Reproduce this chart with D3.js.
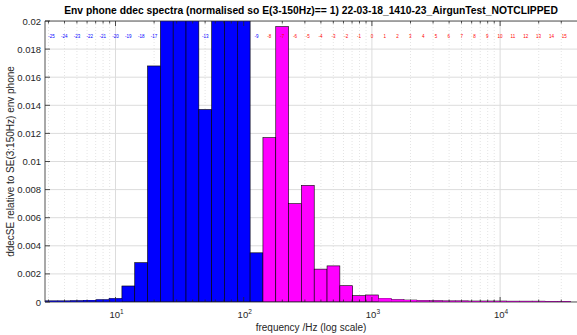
<!DOCTYPE html>
<html><head><meta charset="utf-8">
<script src="https://cdn.jsdelivr.net/npm/d3@7"></script>
<style>body{margin:0;background:#fff}svg{display:block}</style>
</head><body>
<script>
// Third-octave band indices (relative to 1 kHz) and normalised ddecSE values
const bands = [-25,-24,-23,-22,-21,-20,-19,-18,-17,-16,-15,-14,-13,-12,-11,-10,-9,-8,-7,-6,-5,-4,-3,-2,-1,0,1,2,3,4,5,6,7,8,9,10,11,12,13,14,15];
const values = [0.00008,0.00008,0.00009,0.00012,0.00016,0.00024,0.00114,0.0028,0.0168,0.028,0.034,0.031,0.0137,0.027,0.030,0.026,0.0035,0.0117,0.0196,0.0070,0.0083,0.00234,0.00257,0.00116,0.00045,0.0005,0.00026,0.00017,0.00014,0.0001,0.00009,0.00008,0.00008,0.00007,0.00007,0.00007,0.00006,0.00006,0.00006,0.00005,0.00005];
const yTicks = [0,0.002,0.004,0.006,0.008,0.01,0.012,0.014,0.016,0.018,0.02];
const yTickLabels = ["0","0.002","0.004","0.006","0.008","0.01","0.012","0.014","0.016","0.018","0.02"];
const xMajor = [10,100,1000,10000];
const xMajorExp = ["1","2","3","4"];
const title = "Env phone ddec spectra (normalised so E(3-150Hz)== 1) 22-03-18_1410-23_AirgunTest_NOTCLIPPED";
const xLabel = "frequency /Hz (log scale)";
const yLabel = "ddecSE relative to SE(3:150Hz) env phone";
const lastBlueBand = -9;

const W = 577, H = 335;
const L = 45, T = 21, B = 302;
const fLo = Math.pow(10, 0.45), fHi = Math.pow(10, 4.6);
const R = L + 4.15 * 128.2;
const font = "'Liberation Sans', Arial, sans-serif";
const axisCol = "#262626";

const svg = d3.select("body").append("svg").attr("width", W).attr("height", H);
const x = d3.scaleLog().domain([fLo, fHi]).range([L, R]);
const y = d3.scaleLinear().domain([0, 0.02]).range([B, T]);

svg.append("clipPath").attr("id","clip").append("rect").attr("x",L).attr("y",T).attr("width",R-L).attr("height",B-T);

// minor x positions
const minor = [];
for (let d = 1; d <= 10000; d *= 10) for (let k = 1; k <= 9; k++) { const f = d*k; if (f > fLo && f < fHi && k !== 1) minor.push(f); }

const g = svg.append("g").attr("clip-path","url(#clip)");
// minor grid (dotted)
g.selectAll("line.mg").data(minor).join("line")
  .attr("x1", d=>x(d)).attr("x2", d=>x(d)).attr("y1", T).attr("y2", B)
  .attr("stroke","#d9d9d9").attr("stroke-width",0.7).attr("stroke-dasharray","1,2");
// major grid
g.selectAll("line.xg").data(xMajor).join("line")
  .attr("x1", d=>x(d)).attr("x2", d=>x(d)).attr("y1", T).attr("y2", B)
  .attr("stroke","#dcdcdc").attr("stroke-width",1);
g.selectAll("line.yg").data(yTicks).join("line")
  .attr("x1", L).attr("x2", R).attr("y1", d=>y(d)).attr("y2", d=>y(d))
  .attr("stroke","#dcdcdc").attr("stroke-width",1);

// bars
const bandData = bands.map((n,i)=>({n, v: values[i], fc: 1000*Math.pow(10, n/10)}));
g.selectAll("rect.bar").data(bandData).join("rect")
  .attr("x", d=>x(d.fc*Math.pow(10,-0.05)))
  .attr("width", d=>x(d.fc*Math.pow(10,0.05)) - x(d.fc*Math.pow(10,-0.05)))
  .attr("y", d=>y(d.v)).attr("height", d=>y(0)-y(d.v))
  .attr("fill", d=> d.n <= lastBlueBand ? "#0000ff" : "#ff00ff")
  .attr("stroke","#000").attr("stroke-width",0.6);
// coloured baseline strip for the tiny bars
g.selectAll("rect.base").data(bandData.filter(d=>d.v < 0.0003)).join("rect")
  .attr("x", d=>x(d.fc*Math.pow(10,-0.05)))
  .attr("width", d=>x(d.fc*Math.pow(10,0.05)) - x(d.fc*Math.pow(10,-0.05)))
  .attr("y", d=>y(d.v)).attr("height", d=>Math.max(1.5, y(0)-y(d.v)))
  .attr("fill", d=> d.n <= lastBlueBand ? "#0000ff" : "#ff00ff");

// band labels on top
svg.selectAll("text.bl").data(bandData).join("text")
  .attr("x", d=>x(d.fc)).attr("y", 37.5)
  .attr("text-anchor","middle").attr("font-family",font).attr("font-size",4.5)
  .attr("fill", d=> d.n <= lastBlueBand ? "#0000ff" : "#ff0000")
  .text(d=>d.n);

// axes lines
svg.append("line").attr("x1",L).attr("x2",L).attr("y1",T).attr("y2",B).attr("stroke",axisCol).attr("stroke-width",0.8);
svg.append("line").attr("x1",L).attr("x2",R).attr("y1",B).attr("y2",B).attr("stroke",axisCol).attr("stroke-width",0.8);
svg.append("line").attr("x1",L).attr("x2",R).attr("y1",T).attr("y2",T).attr("stroke",axisCol).attr("stroke-width",0.8);

// ticks
const tk = svg.append("g").attr("stroke",axisCol).attr("stroke-width",0.8);
xMajor.forEach(f=>{
  tk.append("line").attr("x1",x(f)).attr("x2",x(f)).attr("y1",B).attr("y2",B-5);
  tk.append("line").attr("x1",x(f)).attr("x2",x(f)).attr("y1",T).attr("y2",T+5);
});
minor.forEach(f=>{
  tk.append("line").attr("x1",x(f)).attr("x2",x(f)).attr("y1",B).attr("y2",B-2.5);
  tk.append("line").attr("x1",x(f)).attr("x2",x(f)).attr("y1",T).attr("y2",T+2.5);
});
yTicks.forEach(v=>{
  tk.append("line").attr("x1",L).attr("x2",L+5).attr("y1",y(v)).attr("y2",y(v));
});

// y tick labels
svg.selectAll("text.yt").data(yTicks).join("text")
  .attr("x", L-4).attr("y", d=>y(d)+3.5).attr("text-anchor","end")
  .attr("font-family",font).attr("font-size",9.5).attr("fill",axisCol)
  .text((d,i)=>yTickLabels[i]);

// x tick labels
xMajor.forEach((f,i)=>{
  const t = svg.append("text").attr("x", x(f)+1).attr("y", 318).attr("text-anchor","middle")
    .attr("font-family",font).attr("font-size",9.5).attr("fill",axisCol);
  t.append("tspan").text("10");
  t.append("tspan").attr("dy",-4).attr("font-size",6.5).text(xMajorExp[i]);
});

svg.append("text").attr("x",(L+R)/2).attr("y",331).attr("text-anchor","middle")
  .attr("font-family",font).attr("font-size",10).attr("fill",axisCol).text(xLabel);
svg.append("text").attr("transform",`translate(14,${(T+B)/2}) rotate(-90)`).attr("text-anchor","middle")
  .attr("font-family",font).attr("font-size",10).attr("fill",axisCol).text(yLabel);
svg.append("text").attr("x",(L+R)/2).attr("y",14).attr("text-anchor","middle")
  .attr("font-family",font).attr("font-size",10.3).attr("font-weight","bold").attr("fill","#000").text(title);
</script>
</body></html>
